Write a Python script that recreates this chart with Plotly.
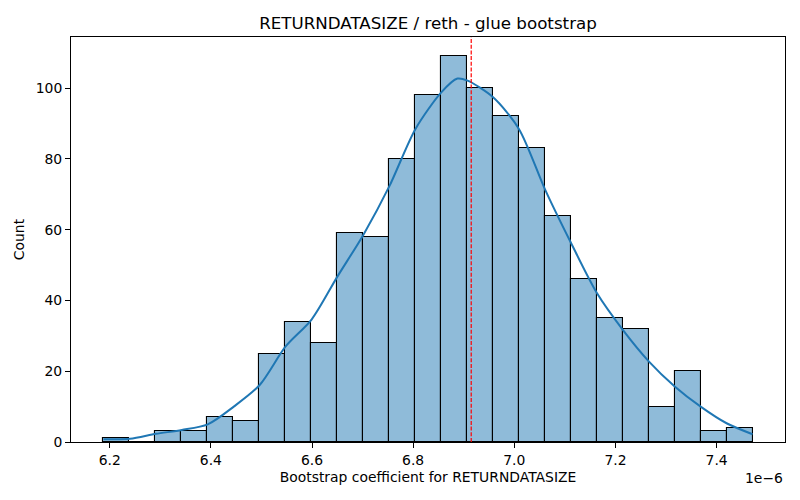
import plotly.graph_objects as go

# Data (x in units of 1e-6)
bin_start = 6.1876
bin_width = 0.05134
counts = [1, 0, 3, 3, 7, 6, 25, 34, 28, 59, 58, 80, 98, 109, 100, 92, 83, 64, 46, 35, 32, 10, 20, 3, 4]

kde_x = [6.1876, 6.2400, 6.2913, 6.3426, 6.3939, 6.4452, 6.4965, 6.5478, 6.5991, 6.6504,
         6.7017, 6.7530, 6.8043, 6.8556, 6.8875, 6.9076, 6.9581, 7.0094, 7.0607, 7.1120,
         7.1633, 7.2146, 7.2659, 7.3172, 7.3685, 7.4198, 7.4711]
kde_y = [0.8, 0.9, 2.3, 3.4, 5.0, 10.0, 16.1, 27.0, 34.6, 46.8,
         58.6, 72.3, 88.4, 98.8, 102.7, 102.1, 97.4, 88.4, 71.4, 56.3,
         42.1, 31.7, 22.8, 15.7, 10.0, 5.3, 2.2]

mean_line = 6.9148

title = "RETURNDATASIZE / reth - glue bootstrap"
xlabel = "Bootstrap coefficient for RETURNDATASIZE"
ylabel = "Count"
x_ticks = [6.2, 6.4, 6.6, 6.8, 7.0, 7.2, 7.4]
y_ticks = [0, 20, 40, 60, 80, 100]

centers = [bin_start + (i + 0.5) * bin_width for i in range(len(counts))]
x_lo = bin_start - 0.05 * bin_width * len(counts)
x_hi = bin_start + bin_width * len(counts) * 1.05
y_hi = max(counts) * 1.05

FONT = "DejaVu Sans"
FS = 13.9

fig = go.Figure()
fig.add_trace(go.Bar(
    x=centers, y=counts, width=[bin_width] * len(counts),
    marker=dict(color="rgba(31,119,180,0.5)", line=dict(color="black", width=1.1)),
    showlegend=False, hoverinfo="skip",
))
fig.add_trace(go.Scatter(
    x=kde_x, y=kde_y, mode="lines", line=dict(color="#1f77b4", width=2, shape="spline", smoothing=0.8),
    showlegend=False, hoverinfo="skip",
))
fig.add_shape(type="line", x0=mean_line, x1=mean_line, xref="x", y0=0, y1=1, yref="paper",
              line=dict(color="red", width=1.2, dash="4px,1.7px"))

fig.update_layout(
    width=800, height=500,
    margin=dict(l=71, r=15, t=37, b=58),
    paper_bgcolor="white", plot_bgcolor="white",
    font=dict(family=FONT, size=FS, color="black"),
    bargap=0,
    title=dict(text=title, x=(71 + 785) / 2 / 800, xanchor="center", y=1 - 23 / 500, yanchor="middle",
               font=dict(family=FONT, size=16.7, color="black")),
    xaxis=dict(range=[x_lo, x_hi], tickvals=x_ticks, ticktext=[f"{v:.1f}" for v in x_ticks],
               showline=True, linecolor="black", linewidth=1, mirror=True,
               ticks="outside", ticklen=5, tickcolor="black", showgrid=False, zeroline=False,
               automargin=False, tickfont=dict(size=FS),
               title=dict(text=xlabel, font=dict(size=FS), standoff=5)),
    yaxis=dict(range=[0, y_hi], tickvals=y_ticks,
               showline=True, linecolor="black", linewidth=1, mirror=True,
               ticks="outside", ticklen=5, tickcolor="black", showgrid=False, zeroline=False,
               automargin=False, tickfont=dict(size=FS),
               title=dict(text=ylabel, font=dict(size=FS), standoff=7)),
)
fig.add_annotation(text="1e\u22126", xref="paper", yref="paper", x=1, y=0, xanchor="right", yanchor="top",
                   yshift=-26, showarrow=False, font=dict(family=FONT, size=FS, color="black"))

fig.write_html("out.html", config={"displayModeBar": False},
               post_script="document.body.style.margin='0';document.body.style.padding='0';")
